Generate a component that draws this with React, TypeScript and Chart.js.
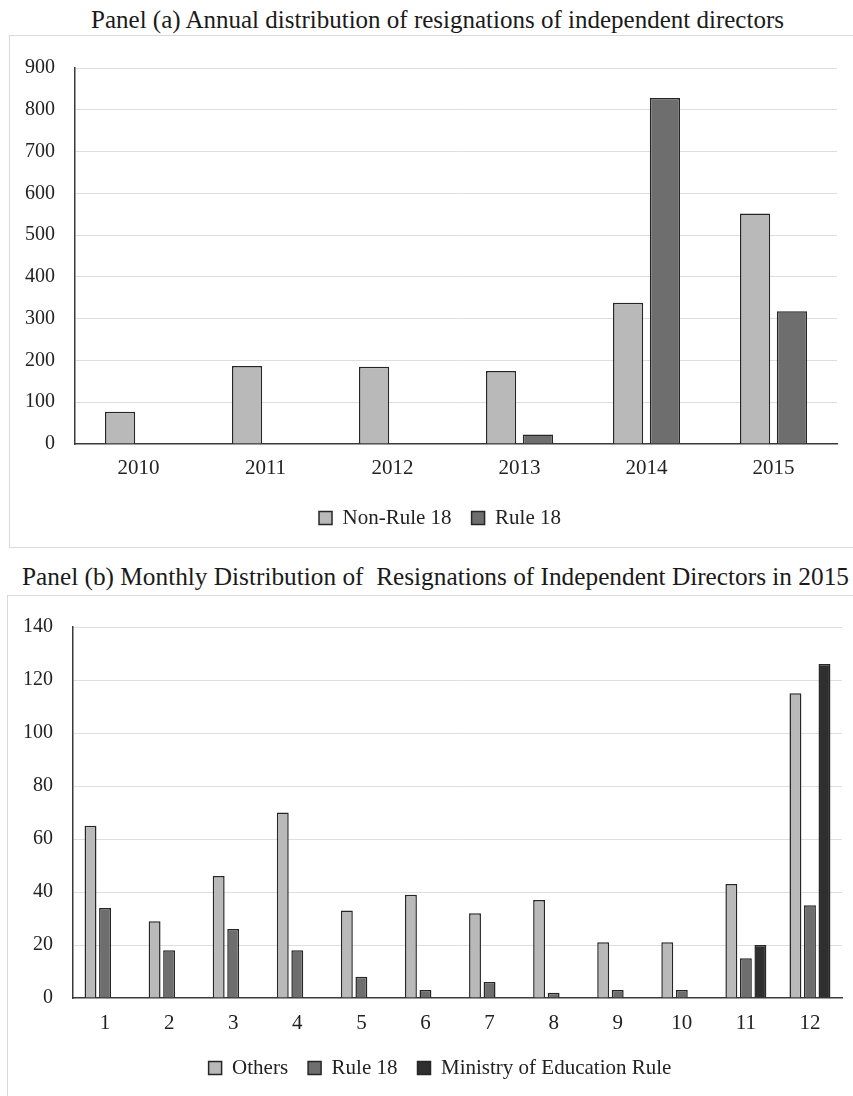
import React, { useEffect, useRef } from "react";
import { Chart, registerables } from "chart.js";

Chart.register(...registerables);

// ---- Panel (a) data ----
const years = ["2010", "2011", "2012", "2013", "2014", "2015"];
const nonRule18 = [77, 187, 185, 175, 338, 552];
const rule18Annual: (number | null)[] = [null, null, null, 23, 828, 318];
const annualMin = 0;
const annualMax = 900;
const annualStep = 100;

// ---- Panel (b) data ----
const months = ["1", "2", "3", "4", "5", "6", "7", "8", "9", "10", "11", "12"];
const others = [65, 29, 46, 70, 33, 39, 32, 37, 21, 21, 43, 115];
const rule18Monthly = [34, 18, 26, 18, 8, 3, 6, 2, 3, 3, 15, 35];
const moeRule: (number | null)[] = [null, null, null, null, null, null, null, null, null, null, 20, 126];
const monthlyMin = 0;
const monthlyMax = 140;
const monthlyStep = 20;

const titleA = "Panel (a) Annual distribution of resignations of independent directors";
const titleB = "Panel (b) Monthly Distribution of  Resignations of Independent Directors in 2015";

const SERIF = "'Liberation Serif', 'Times New Roman', serif";
const TEXT = "#222222";
const LIGHT = "#b9b9b9";
const MID = "#6e6e6e";
const DARK = "#2f2f2f";
const EDGE = "#262626";

type Cfg = {
  min: number;
  max: number;
  step: number;
  padTop: number;
  padBottom: number;
  yWidth: number;
  rightSpace: number;
  xHeight: number;
  xTickPad: number;
  legendPad: number;
  catPct: number;
  barPct: number;
};

function makeOptions(cfg: Cfg): any {
  return {
    responsive: false,
    animation: false,
    devicePixelRatio: 1,
    datasets: { bar: { categoryPercentage: cfg.catPct, barPercentage: cfg.barPct } },
    layout: {
      padding: { left: 0, right: 0, top: cfg.padTop, bottom: cfg.padBottom },
    },
    plugins: {
      title: { display: false },
      tooltip: { enabled: false },
      legend: {
        position: "bottom",
        labels: {
          boxWidth: 13,
          boxHeight: 13,
          padding: cfg.legendPad,
          color: TEXT,
          font: { family: SERIF, size: 21 },
        },
      },
    },
    scales: {
      x: {
        grid: { display: true, color: "transparent", drawTicks: false },
        border: { display: true, color: "#3a3a3a", width: 1.5 },
        ticks: { color: TEXT, padding: cfg.xTickPad, font: { family: SERIF, size: 21 } },
        afterFit: (s: any) => {
          s.height = cfg.xHeight;
        },
      },
      y: {
        min: cfg.min,
        max: cfg.max,
        ticks: { stepSize: cfg.step, padding: 20, color: TEXT, font: { family: SERIF, size: 20 } },
        grid: {
          drawTicks: false,
          color: (c: any) => (c.tick && c.tick.value === 0 ? "transparent" : "#dedede"),
          lineWidth: 1,
        },
        border: { display: true, color: "#3a3a3a", width: 1.5 },
        afterFit: (s: any) => {
          s.width = cfg.yWidth;
        },
      },
      // empty spacer on the right so the legend centres under the whole panel box
      spacer: {
        type: "linear",
        position: "right",
        display: true,
        grid: { display: false, drawTicks: false },
        border: { display: false },
        ticks: { display: false },
        afterFit: (s: any) => {
          s.width = cfg.rightSpace;
        },
      },
    },
  };
}

function ds(label: string, data: (number | null)[], color: string) {
  return {
    label,
    data,
    backgroundColor: color,
    borderColor: EDGE,
    borderWidth: 1.5,
    yAxisID: "y",
  };
}

export default function App() {
  const refA = useRef<HTMLCanvasElement | null>(null);
  const refB = useRef<HTMLCanvasElement | null>(null);

  useEffect(() => {
    const chartA = new Chart(refA.current as HTMLCanvasElement, {
      type: "bar",
      data: {
        labels: years,
        datasets: [ds("Non-Rule 18", nonRule18, LIGHT), ds("Rule 18", rule18Annual, MID)],
      },
      options: makeOptions({
        min: annualMin,
        max: annualMax,
        step: annualStep,
        padTop: 26,
        padBottom: 7.5,
        yWidth: 75,
        rightSpace: 43,
        xHeight: 43.5,
        xTickPad: 12,
        legendPad: 20,
        catPct: 0.58,
        barPct: 0.82,
      }),
    } as any);

    const chartB = new Chart(refB.current as HTMLCanvasElement, {
      type: "bar",
      data: {
        labels: months,
        datasets: [
          ds("Others", others, LIGHT),
          ds("Rule 18", rule18Monthly, MID),
          ds("Ministry of Education Rule", moeRule, DARK),
        ],
      },
      options: makeOptions({
        min: monthlyMin,
        max: monthlyMax,
        step: monthlyStep,
        padTop: 25,
        padBottom: 7.5,
        yWidth: 73,
        rightSpace: 38,
        xHeight: 39.5,
        xTickPad: 13,
        legendPad: 20,
        catPct: 0.68,
        barPct: 0.82,
      }),
    } as any);

    return () => {
      chartA.destroy();
      chartB.destroy();
    };
  }, []);

  return (
    <div
      style={{
        position: "absolute",
        left: 0,
        top: 0,
        width: 853,
        height: 1096,
        overflow: "hidden",
        background: "#ffffff",
        fontFamily: SERIF,
        color: "#1a1a1a",
      }}
    >
      <div
        style={{
          position: "absolute",
          left: 0,
          top: 7,
          width: 875,
          textAlign: "center",
          fontSize: 25,
          lineHeight: "25px",
          whiteSpace: "nowrap",
        }}
      >
        {titleA}
      </div>
      <div
        style={{
          position: "absolute",
          left: 9,
          top: 35,
          width: 900,
          height: 513,
          boxSizing: "border-box",
          border: "1px solid #d9d9d9",
        }}
      />
      <canvas
        ref={refA}
        width={880}
        height={510}
        style={{ position: "absolute", left: 0, top: 36, width: 880, height: 510 }}
      />
      <div
        style={{
          position: "absolute",
          left: 22,
          top: 564,
          fontSize: 25.3,
          lineHeight: "25px",
          whiteSpace: "pre",
        }}
      >
        {titleB}
      </div>
      <div
        style={{
          position: "absolute",
          left: 7,
          top: 595,
          width: 900,
          height: 600,
          boxSizing: "border-box",
          border: "1px solid #d9d9d9",
        }}
      />
      <canvas
        ref={refB}
        width={880}
        height={501}
        style={{ position: "absolute", left: 0, top: 595, width: 880, height: 501 }}
      />
    </div>
  );
}
